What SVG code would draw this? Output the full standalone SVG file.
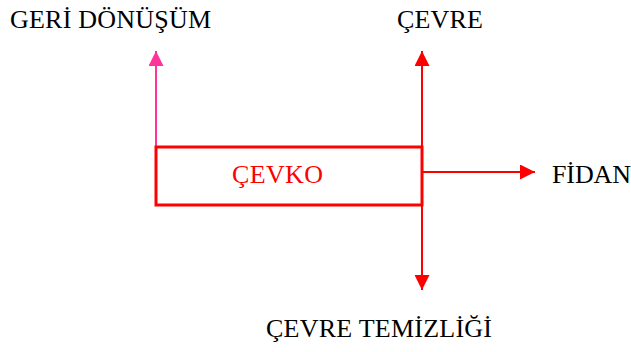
<svg xmlns="http://www.w3.org/2000/svg" width="631" height="352" viewBox="0 0 631 352">
<defs>
<style>
.t{font-family:"Liberation Serif","Times New Roman",serif;font-size:26px;fill:#000}
.r{stroke:#ff0000;stroke-width:2;fill:none}
</style>
<marker id="ar" viewBox="0 0 15 15" refX="15" refY="7.5" markerWidth="15" markerHeight="15" markerUnits="userSpaceOnUse" orient="auto"><path d="M0,0L15,7.5L0,15z" fill="#ff0000"/></marker>
<marker id="ap" viewBox="0 0 15 15" refX="15" refY="7.5" markerWidth="15" markerHeight="15" markerUnits="userSpaceOnUse" orient="auto"><path d="M0,0L15,7.5L0,15z" fill="#ff3399"/></marker>
</defs>
<rect width="631" height="352" fill="#fff"/>
<g id="connectors">
<line x1="156" y1="147" x2="156" y2="51" stroke="#ff3399" stroke-width="2" marker-end="url(#ap)"/>
<line class="r" x1="422" y1="147" x2="422" y2="51" marker-end="url(#ar)"/>
<line class="r" x1="422" y1="205" x2="422" y2="290" marker-end="url(#ar)"/>
<line class="r" x1="422" y1="172" x2="535" y2="172" marker-end="url(#ar)"/>
</g>
<g id="cevko">
<rect x="156" y="147" width="266" height="58" fill="none" stroke="#ff0000" stroke-width="3"/>
<text class="t" x="232" y="183" textLength="91" style="fill:#ff0000">ÇEVKO</text>
</g>
<g id="geri-donusum"><text class="t" x="10" y="28" textLength="201">GERİ DÖNÜŞÜM</text></g>
<g id="cevre"><text class="t" x="397" y="28" textLength="86">ÇEVRE</text></g>
<g id="fidan"><text class="t" x="552" y="183" textLength="79">FİDAN</text></g>
<g id="cevre-temizligi"><text class="t" x="266" y="337" textLength="226">ÇEVRE TEMİZLİĞİ</text></g>
</svg>
